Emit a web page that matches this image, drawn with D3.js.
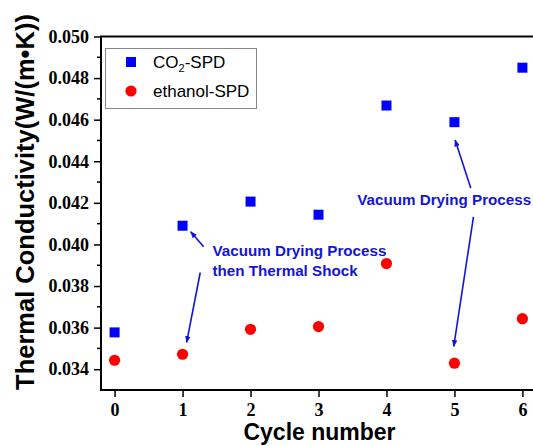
<!DOCTYPE html>
<html>
<head>
<meta charset="utf-8">
<script src="https://cdn.jsdelivr.net/npm/d3@7"></script>
<style>
  html, body { margin: 0; padding: 0; background: #fff; }
  svg { display: block; }
</style>
</head>
<body>
<svg id="chart" width="533" height="446"></svg>
<script>
// Thermal conductivity over repeated drying / shock cycles
const cycles = [0, 1, 2, 3, 4, 5, 6];
const co2SPD = [0.03577, 0.04090, 0.04206, 0.04143, 0.04668, 0.04588, 0.04850];
const ethanolSPD = [0.03443, 0.03472, 0.03592, 0.03605, 0.03908, 0.03429, 0.03643];
const yTickValues = [0.034, 0.036, 0.038, 0.040, 0.042, 0.044, 0.046, 0.048, 0.050];
const seriesNames = ["CO\u2082-SPD", "ethanol-SPD"];

// annotation arrows, in data units: [x1, y1, x2, y2]
const arrows = [
  [1.31, 0.03989, 1.12, 0.04061],
  [1.26, 0.03865, 1.06, 0.03529],
  [5.24, 0.04272, 5.01, 0.04502],
  [5.28, 0.04133, 4.99, 0.03510]
];
const notes = [
  { x: 1.44, y: 0.03946, text: "Vacuum Drying Process" },
  { x: 1.44, y: 0.03850, text: "then Thermal Shock" },
  { x: 3.57, y: 0.04190, text: "Vacuum Drying Process" }
];

const svg = d3.select("#chart");
const plotLeft = 101, plotRight = 536, plotTop = 36.5, plotBottom = 390;

const x = d3.scaleLinear().domain([-0.2, 6.2]).range([plotLeft, plotRight]);
const y = d3.scaleLinear().domain([0.033, 0.050]).range([plotBottom, plotTop]);

const blue = "#0000ff", red = "#ff0000", noteBlue = "#1414d6";

// arrowhead
svg.append("defs").append("marker")
  .attr("id", "head")
  .attr("viewBox", "0 0 10 10")
  .attr("refX", 9).attr("refY", 5)
  .attr("markerWidth", 7).attr("markerHeight", 7)
  .attr("markerUnits", "userSpaceOnUse")
  .attr("orient", "auto")
  .append("path").attr("d", "M0,1 L10,5 L0,9 Z").attr("fill", noteBlue);

// axes
const yAxis = d3.axisLeft(y).tickValues(yTickValues).tickFormat(d3.format(".3f"))
  .tickSize(7).tickPadding(5);
const gy = svg.append("g").attr("transform", `translate(${plotLeft},0)`).call(yAxis);
gy.select(".domain").remove();

// minor y ticks
const minor = d3.range(0.035, 0.050, 0.002);
svg.append("g").selectAll("line").data(minor).join("line")
  .attr("x1", plotLeft - 4).attr("x2", plotLeft)
  .attr("y1", d => y(d)).attr("y2", d => y(d))
  .attr("stroke", "#000").attr("stroke-width", 1.5);

const xAxis = d3.axisBottom(x).tickValues(cycles).tickFormat(d3.format("d"))
  .tickSize(7).tickPadding(6);
const gx = svg.append("g").attr("transform", `translate(0,${plotBottom})`).call(xAxis);
gx.select(".domain").remove();

[gx, gy].forEach(g => {
  g.selectAll(".tick line").attr("stroke", "#000").attr("stroke-width", 1.5);
  g.selectAll(".tick text")
    .attr("fill", "#000")
    .style("font-family", "'Liberation Serif', 'Times New Roman', serif")
    .style("font-weight", "bold")
    .style("font-size", "18px");
});

// frame lines: left, bottom, top
svg.append("line").attr("x1", plotLeft).attr("x2", plotLeft).attr("y1", plotTop).attr("y2", plotBottom + 1)
  .attr("stroke", "#000").attr("stroke-width", 2);
svg.append("line").attr("x1", plotLeft - 1).attr("x2", 533).attr("y1", plotBottom).attr("y2", plotBottom)
  .attr("stroke", "#000").attr("stroke-width", 2);
svg.append("line").attr("x1", plotLeft - 1).attr("x2", 533).attr("y1", plotTop).attr("y2", plotTop)
  .attr("stroke", "#000").attr("stroke-width", 2);

// axis titles
svg.append("text")
  .attr("x", (x(0) + x(6)) / 2 + 1).attr("y", 440)
  .attr("text-anchor", "middle")
  .style("font-family", "'Liberation Sans', Arial, sans-serif")
  .style("font-weight", "bold").style("font-size", "23px")
  .text("Cycle number");

svg.append("text")
  .attr("transform", "translate(34,202) rotate(-90)")
  .attr("text-anchor", "middle")
  .style("font-family", "'Liberation Sans', Arial, sans-serif")
  .style("font-weight", "bold").style("font-size", "25.5px")
  .text("Thermal Conductivity(W/(m\u2022K))");

// data points
svg.append("g").selectAll("rect").data(cycles).join("rect")
  .attr("x", (d, i) => x(d) - 5).attr("y", (d, i) => y(co2SPD[i]) - 5)
  .attr("width", 10).attr("height", 10).attr("fill", blue);

svg.append("g").selectAll("circle").data(cycles).join("circle")
  .attr("cx", d => x(d)).attr("cy", (d, i) => y(ethanolSPD[i]))
  .attr("r", 5.6).attr("fill", red);

// annotations
svg.append("g").selectAll("line").data(arrows).join("line")
  .attr("x1", d => x(d[0])).attr("y1", d => y(d[1]))
  .attr("x2", d => x(d[2])).attr("y2", d => y(d[3]))
  .attr("stroke", noteBlue).attr("stroke-width", 1.6)
  .attr("marker-end", "url(#head)");

svg.append("g").selectAll("text").data(notes).join("text")
  .attr("x", d => x(d.x)).attr("y", d => y(d.y))
  .attr("fill", noteBlue)
  .style("font-family", "'Liberation Sans', Arial, sans-serif")
  .style("font-weight", "bold").style("font-size", "15.2px")
  .text(d => d.text);

// legend
const lg = svg.append("g");
lg.append("rect").attr("x", 105.5).attr("y", 48.5).attr("width", 151).attr("height", 60)
  .attr("fill", "#fff").attr("stroke", "#888").attr("stroke-width", 1);
lg.append("rect").attr("x", 126).attr("y", 57).attr("width", 10).attr("height", 10).attr("fill", blue);
lg.append("circle").attr("cx", 131).attr("cy", 91).attr("r", 5.6).attr("fill", red);
const legFont = sel => sel.style("font-family", "'Liberation Sans', Arial, sans-serif").style("font-size", "17px");
const t1 = lg.append("text").attr("x", 153).attr("y", 68).call(legFont);
t1.append("tspan").text("CO");
t1.append("tspan").attr("dy", 4).style("font-size", "11px").text("2");
t1.append("tspan").attr("dy", -4).text("-SPD");
lg.append("text").attr("x", 153).attr("y", 97).call(legFont).text(seriesNames[1]);
</script>
</body>
</html>
